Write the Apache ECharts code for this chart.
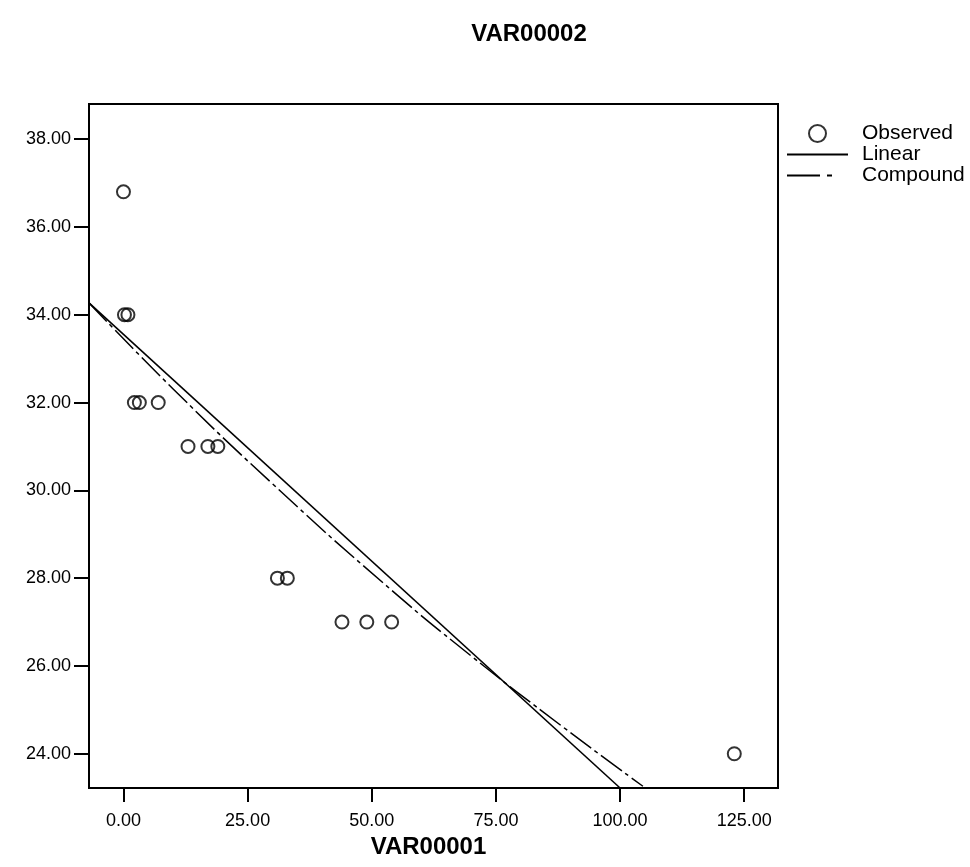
<!DOCTYPE html>
<html>
<head>
<meta charset="utf-8">
<script src="https://cdn.jsdelivr.net/npm/echarts@6/dist/echarts.min.js"></script>
<style>
html,body{margin:0;padding:0;background:#fff;}
#chart{width:970px;height:867px;}
</style>
</head>
<body>
<div id="chart"></div>
<script>
// ---- data ----
const obsX = [0, 0.2, 0.9, 2.2, 3.2, 7, 13, 17, 19, 31, 33, 44, 49, 54, 123];
const obsY = [36.8, 34, 34, 32, 32, 32, 31, 31, 31, 28, 28, 27, 27, 27, 24];
const linearX = [-6.94, 100];
const linearY = [34.27, 23.22];
const compoundX = [-6.94, 10, 30, 52.2, 70, 88.5, 104.6];
const compoundY = [34.27, 32.31, 30.15, 27.90, 26.23, 24.61, 23.26];
const xTicks = [0, 25, 50, 75, 100, 125];
const yTicks = [24, 26, 28, 30, 32, 34, 36, 38];
const xRange = [-6.94, 131.8];
const yRange = [23.22, 38.80];

const zip = (a, b) => a.map((v, i) => [v, b[i]]);
const FONT = '"Liberation Sans", Arial, sans-serif';

const chart = echarts.init(document.getElementById('chart'), null, {renderer: 'canvas'});
chart.setOption({
  animation: false,
  backgroundColor: '#fff',
  title: {
    text: 'VAR00002',
    left: 524, top: 17,
    textAlign: 'center',
    textStyle: {fontFamily: FONT, fontWeight: 'bold', fontSize: 24, color: '#000'}
  },
  legend: {
    orient: 'vertical',
    left: 782, top: 118,
    itemWidth: 61, itemHeight: 17, itemGap: 0,
    symbolKeepAspect: true,
    selectedMode: false,
    textStyle: {fontFamily: FONT, fontSize: 21, lineHeight: 17, color: '#000', padding: [0, 0, 0, 9]},
    data: [
      {name: 'Observed', icon: 'circle', itemStyle: {color: 'transparent', borderColor: '#000', borderWidth: 2}},
      {name: 'Linear', icon: 'path://M0,0H61V2H0Z', itemStyle: {color: '#000', borderWidth: 0}},
      {name: 'Compound', icon: 'path://M0,0H33V2H0Z M40,0H45V2H40Z M61,0L61,2', itemStyle: {color: '#000', borderWidth: 0}}
    ]
  },
  grid: {
    left: 89, right: 192, top: 104, bottom: 79,
    show: true, borderColor: '#000', borderWidth: 2, backgroundColor: 'transparent'
  },
  xAxis: {
    type: 'value', min: xRange[0], max: xRange[1],
    name: 'VAR00001', nameLocation: 'middle', nameGap: 41,
    nameTextStyle: {fontFamily: FONT, fontWeight: 'bold', fontSize: 24, color: '#000', padding: [0, 10, 0, 0]},
    axisLine: {show: true, onZero: false, lineStyle: {color: '#000', width: 2}},
    axisTick: {show: true, length: 14, lineStyle: {color: '#000', width: 2}, customValues: xTicks},
    axisLabel: {fontFamily: FONT, fontSize: 18, color: '#000', margin: 24, customValues: xTicks,
      formatter: v => v.toFixed(2)},
    splitLine: {show: false}
  },
  yAxis: {
    type: 'value', min: yRange[0], max: yRange[1],
    axisLine: {show: true, onZero: false, lineStyle: {color: '#000', width: 2}},
    axisTick: {show: true, length: 15, lineStyle: {color: '#000', width: 2}, customValues: yTicks},
    axisLabel: {fontFamily: FONT, fontSize: 18, color: '#000', margin: 18, customValues: yTicks,
      formatter: v => v.toFixed(2)},
    splitLine: {show: false}
  },
  series: [
    {
      name: 'Observed', type: 'scatter', data: zip(obsX, obsY),
      symbol: 'circle', symbolSize: 13,
      itemStyle: {color: 'transparent', borderColor: '#000', borderWidth: 2}
    },
    {
      name: 'Linear', type: 'line', data: zip(linearX, linearY),
      showSymbol: false, symbol: 'none',
      lineStyle: {color: '#000', width: 1.6},
      itemStyle: {color: '#000'}
    },
    {
      name: 'Compound', type: 'line', data: zip(compoundX, compoundY),
      showSymbol: false, symbol: 'none', smooth: true,
      lineStyle: {color: '#000', width: 1.5, type: [26, 4, 4, 4]},
      itemStyle: {color: '#000'}
    }
  ]
});
</script>
</body>
</html>
